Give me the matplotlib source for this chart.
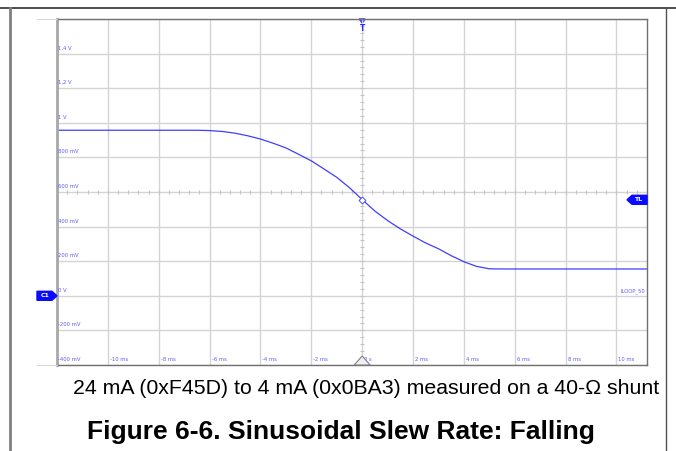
import numpy as np
import matplotlib
matplotlib.use("Agg")
import matplotlib.pyplot as plt
from matplotlib.lines import Line2D
from matplotlib.patches import Polygon
from matplotlib.transforms import Affine2D, ScaledTranslation

# scope capture: loop current falling from 24 mA to 4 mA on a 40-ohm shunt
time_ms = [-12.0, -6.5, -6.0, -5.5, -5.0, -4.5, -4.0, -3.5, -3.0, -2.5, -2.0,
           -1.5, -1.0, -0.5, 0.0, 0.5, 1.0, 1.5, 2.0, 2.5, 3.0, 3.5, 4.0,
           4.5, 5.0, 5.5, 11.2]
volts = [0.957, 0.957, 0.955, 0.950, 0.940, 0.925, 0.906, 0.882, 0.855,
         0.818, 0.780, 0.733, 0.685, 0.625, 0.556, 0.490, 0.435, 0.387,
         0.345, 0.305, 0.272, 0.232, 0.197, 0.170, 0.156, 0.155, 0.155]

trig_level = 0.555
x_grid = [-12, -10, -8, -6, -4, -2, 0, 2, 4, 6, 8, 10]
x_labels = ["-10 ms", "-8 ms", "-6 ms", "-4 ms", "-2 ms", "0 s",
            "2 ms", "4 ms", "6 ms", "8 ms", "10 ms"]
y_grid = [-0.4, -0.2, 0.0, 0.2, 0.4, 0.6, 0.8, 1.0, 1.2, 1.4, 1.6]
y_labels = ["-400 mV", "-200 mV", "0 V", "200 mV", "400 mV", "600 mV",
            "800 mV", "1 V", "1,2 V", "1,4 V"]

caption = "24 mA (0xF45D) to 4 mA (0x0BA3) measured on a 40-\u03a9 shunt"
title = "Figure 6-6. Sinusoidal Slew Rate: Falling"

W, H = 676, 451
SCOPE_BLUE = "#2a2aff"
LABEL_BLUE = "#5a5aff"
GRID = "#d4d4d4"

fig = plt.figure(figsize=(W / 100, H / 100), dpi=100)
ax = fig.add_axes([57 / W, (H - 365) / H, (647 - 57) / W, (365 - 19) / H])
ax.set_xlim(-12, 11.2)
ax.set_ylim(-0.4, 1.6)

ax.set_xticks(x_grid)
ax.set_yticks(y_grid)
ax.tick_params(length=0, labelbottom=False, labelleft=False)
ax.grid(True, color=GRID, linewidth=1.0)
for side, sp in ax.spines.items():
    sp.set_color("#707070")
    sp.set_linewidth(1.0)
ax.spines["left"].set_color("#a8a8a8")
ax.spines["left"].set_linewidth(2.0)


def px_offset(x, y):
    # vertices given in pixels around a data point
    return Affine2D() + ScaledTranslation(x, y, ax.transData)


# centre crosshair minor ticks
for t in np.arange(-12, 11.3, 0.4):
    ax.plot([t], [0.6], marker="|", markersize=2.5, color="#c4c4c4",
            markeredgewidth=0.8)
for v in np.arange(-0.4, 1.61, 0.04):
    ax.plot([0], [v], marker="_", markersize=2.5, color="#c4c4c4",
            markeredgewidth=0.8)

# y labels sit just above their gridline
for v, lab in zip(y_grid[:-1], y_labels):
    ax.annotate(lab, (-12, v), xytext=(1, 3), textcoords="offset pixels",
                fontsize=3.8, color=LABEL_BLUE, va="bottom", ha="left")
for t, lab in zip(x_grid[1:], x_labels):
    ax.annotate(lab, (t, -0.4), xytext=(2, 3), textcoords="offset pixels",
                fontsize=3.8, color=LABEL_BLUE, va="bottom", ha="left")

ax.plot(time_ms, volts, color=SCOPE_BLUE, linewidth=0.9, alpha=0.9)
ax.plot([0], [trig_level], marker="D", markersize=3.5, markerfacecolor="white",
        markeredgecolor="#4a4aff", markeredgewidth=0.7)

# trigger position marker at the top
ax.add_patch(Polygon([(-3, 0), (3, 0), (0, -4)], closed=True,
                     transform=px_offset(0, 1.6), color=SCOPE_BLUE,
                     clip_on=False))
ax.annotate("T", (0, 1.6), xytext=(0, -5), textcoords="offset pixels",
            fontsize=5.5, fontweight="bold", color=SCOPE_BLUE,
            ha="center", va="top")

# trigger level tag on the right edge
ax.add_patch(Polygon([(0, -4.5), (-15, -4.5), (-20, 0), (-15, 4.5), (0, 4.5)],
                     closed=True, transform=px_offset(11.2, trig_level),
                     color="#0a0aff", clip_on=False, zorder=5))
ax.annotate("TL", (11.2, trig_level), xytext=(-9, 0),
            textcoords="offset pixels", fontsize=4.5, fontweight="bold",
            color="white", ha="center", va="center", zorder=6)

# channel 1 ground tag outside the left edge
ax.add_patch(Polygon([(-20, -4.5), (-5, -4.5), (0, 0), (-5, 4.5), (-20, 4.5)],
                     closed=True, transform=px_offset(-12, 0.0),
                     color="#0a0aff", clip_on=False, zorder=5))
ax.annotate("C1", (-12, 0.0), xytext=(-12, 0), textcoords="offset pixels",
            fontsize=4.5, fontweight="bold", color="white",
            ha="center", va="center", annotation_clip=False, zorder=6)

ax.annotate("ILOOP_50", (11.2, 0.0), xytext=(-2, 2),
            textcoords="offset pixels", fontsize=3.8, color=LABEL_BLUE,
            ha="right", va="bottom")

# horizontal position marker at the bottom
ax.add_patch(Polygon([(-8, 0), (8, 0), (0, 9)], closed=True,
                     transform=px_offset(0, -0.4), facecolor="#f0f0f0",
                     edgecolor="#808080", linewidth=0.8, clip_on=False,
                     zorder=5))

# frame lines around the figure cell
def fig_line(x0, y0, x1, y1, color, lw):
    fig.add_artist(Line2D([x0 / W, x1 / W], [1 - y0 / H, 1 - y1 / H],
                          color=color, linewidth=lw))


fig_line(0, 8, W, 8, "#303030", 1.2)
fig_line(10, 8, 10, H, "#808080", 2.0)
fig_line(666, 8, 666, H, "#505050", 1.0)
fig_line(37, 19, 57, 19, "#d8d8d8", 0.8)
fig_line(37, 365, 57, 365, "#d8d8d8", 0.8)

fig.text(366 / W, 1 - 389 / H, caption, fontsize=15.3,
         family="Liberation Sans", ha="center", va="center")
fig.text(341 / W, 1 - 432 / H, title, fontsize=19, fontweight="bold",
         family="Liberation Sans", ha="center", va="center")

fig.savefig("out.png", dpi=100)
